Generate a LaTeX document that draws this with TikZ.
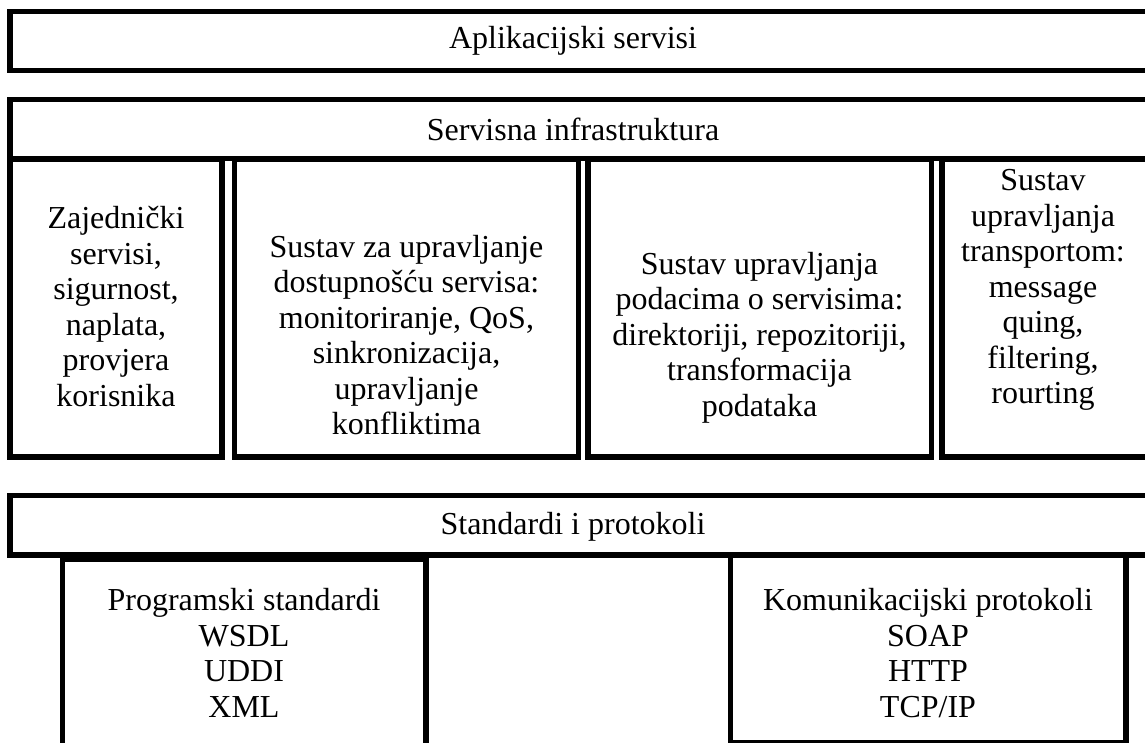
\documentclass[tikz,border=0pt]{standalone}
\usepackage{fontspec}
\setmainfont{Liberation Serif}
\begin{document}
\begin{tikzpicture}[x=1pt,y=-1pt,
  frame/.style={draw=black,line width=5.5pt,rectangle,inner sep=0pt,outer sep=0pt,anchor=north west},
  txt/.style={align=center,inner sep=0pt,font=\fontsize{32}{35.5}\selectfont}]
\path[use as bounding box,clip] (0,0) rectangle (1145,742);

% layer 1: application services
\node[frame,minimum width=1180pt,minimum height=59pt] (app) at (10,11.5) {};
\node[txt] (appT) at (573,41) {Aplikacijski servisi};

% layer 2: service infrastructure
\node[frame,minimum width=1180pt,minimum height=59pt] (infra) at (10,99.5) {};
\node[txt] (infraT) at (573,129) {Servisna infrastruktura};

\node[frame,minimum width=212pt,minimum height=298pt] (b1) at (10,159) {};
\node[frame,minimum width=344pt,minimum height=298pt] (b2) at (234.5,159) {};
\node[frame,minimum width=343.5pt,minimum height=298pt] (b3) at (588,159) {};
\node[frame,minimum width=210pt,minimum height=298pt] (b4) at (942,159) {};

\node[txt] (b1T) at (116,306.5) {Zajednički\\servisi,\\sigurnost,\\naplata,\\provjera\\korisnika};
\node[txt] (b2T) at (406.5,335) {Sustav za upravljanje\\dostupnošću servisa:\\monitoriranje, QoS,\\sinkronizacija,\\upravljanje\\konfliktima};
\node[txt] (b3T) at (759.5,337.5) {Sustav upravljanja\\podacima o servisima:\\direktoriji, repozitoriji,\\transformacija\\podataka};
\node[txt] (b4T) at (1043,290) {Sustav\\upravljanja\\transportom:\\message\\quing,\\filtering,\\rourting};

% layer 3: standards and protocols
\node[frame,minimum width=1180pt,minimum height=59.5pt] (std) at (10,495.5) {};
\node[txt] (stdT) at (573,527) {Standardi i protokoli};

\node[frame,minimum width=363.5pt,minimum height=260pt] (prog) at (62.5,559.5) {};
\node[frame,minimum width=395.5pt,minimum height=187.5pt] (kom) at (730.5,555.5) {};

\node[txt] (progT) at (244,653) {Programski standardi\\WSDL\\UDDI\\XML};
\node[txt] (komT) at (928,653) {Komunikacijski protokoli\\SOAP\\HTTP\\TCP/IP};
\end{tikzpicture}
\end{document}
